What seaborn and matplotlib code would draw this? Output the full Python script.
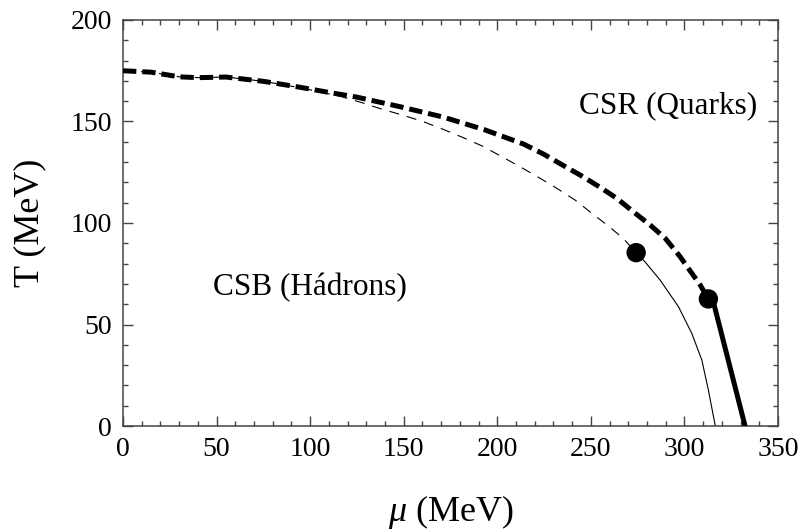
import matplotlib
matplotlib.use("Agg")
import matplotlib.pyplot as plt
import seaborn as sns
import pandas as pd
from matplotlib.ticker import MultipleLocator

# ---- data ----
mu_thick_dash = [0, 15, 30, 40, 55, 75, 95, 112, 125, 148, 171, 193, 214, 224.6, 234.4,
                 244.7, 254.4, 263.8, 272.6, 281.7, 289.7, 297.7, 304, 308.4, 312.8]
T_thick_dash = [175, 174.3, 172, 171.6, 171.9, 169.8, 166.8, 164, 162, 157.3, 152.2, 146,
                138.9, 134, 128.8, 123.4, 117.9, 112.2, 105.6, 99, 92.5, 83.4, 75.2, 69.5, 62.6]

mu_thin_dash = [0, 15, 30, 40, 55, 75, 95, 106, 117, 127.6, 138.6, 149.3, 160.5, 171.2,
                181.9, 192, 202.4, 212.2, 222, 231.8, 241.6, 250.5, 259.8, 267.2, 274.2]
T_thin_dash = [175, 174.3, 172, 171.6, 171.9, 169.8, 166.6, 164.4, 162.2, 159.3, 156, 153.2,
               149.9, 146.1, 142, 137.9, 132.7, 127.7, 122.5, 117.1, 111.3, 104.8, 98.2, 92.5, 85.4]

mu_thin_solid = [274.2, 278.9, 287, 296.8, 303.9, 309.3, 312.8, 316.5]
T_thin_solid = [85.4, 80.9, 71.9, 58.8, 45.7, 32.5, 17.7, 0]

mu_thick_solid = [315.5, 332.4]
T_thick_solid = [61, 0]

mu_points = [274.2, 312.8]
T_points = [85.4, 62.6]

x_ticks = [0, 50, 100, 150, 200, 250, 300, 350]
y_ticks = [0, 50, 100, 150, 200]

region_labels = ["CSR (Quarks)", "CSB (Hádrons)"]
region_x = [291.3, 100]
region_y = [158, 68]

# ---- style ----
sns.set_style("ticks")
plt.rcParams["font.family"] = ["Liberation Serif", "DejaVu Serif"]
plt.rcParams["mathtext.fontset"] = "custom"
plt.rcParams["mathtext.it"] = "Liberation Serif:italic"
plt.rcParams["mathtext.rm"] = "Liberation Serif"
plt.rcParams["lines.scale_dashes"] = False
plt.rcParams["text.color"] = "black"
plt.rcParams["axes.labelcolor"] = "black"
plt.rcParams["xtick.labelcolor"] = "black"
plt.rcParams["ytick.labelcolor"] = "black"

fig = plt.figure(figsize=(8.06, 5.32), dpi=100)
ax = fig.add_axes([123 / 806, 1 - 426 / 532, (778 - 123) / 806, (426 - 20) / 532])

df_td = pd.DataFrame({"mu": mu_thick_dash, "T": T_thick_dash})
df_nd = pd.DataFrame({"mu": mu_thin_dash, "T": T_thin_dash})
df_ns = pd.DataFrame({"mu": mu_thin_solid, "T": T_thin_solid})
df_ts = pd.DataFrame({"mu": mu_thick_solid, "T": T_thick_solid})
df_p = pd.DataFrame({"mu": mu_points, "T": T_points})

sns.lineplot(data=df_nd, x="mu", y="T", ax=ax, sort=False, estimator=None,
             color="black", lw=0.8, zorder=2)
ax.lines[-1].set_dashes((7.2, 5.8))
sns.lineplot(data=df_td, x="mu", y="T", ax=ax, sort=False, estimator=None,
             color="black", lw=3.6, zorder=3)
ax.lines[-1].set_dashes((9.6, 4.3))
sns.lineplot(data=df_ns, x="mu", y="T", ax=ax, sort=False, estimator=None,
             color="black", lw=0.8, zorder=2)
sns.lineplot(data=df_ts, x="mu", y="T", ax=ax, sort=False, estimator=None,
             color="black", lw=3.6, zorder=3)
sns.scatterplot(data=df_p, x="mu", y="T", ax=ax, color="black", s=195,
                edgecolor="none", zorder=5)

for lab, xx, yy in zip(region_labels, region_x, region_y):
    ax.text(xx, yy, lab, ha="center", va="center", fontsize=22.5, color="black")

ax.set_xlim(0, 350)
ax.set_ylim(0, 200)
ax.set_xticks(x_ticks)
ax.set_yticks(y_ticks)
ax.set_xticklabels([str(v) for v in x_ticks])
ax.set_yticklabels([str(v) for v in y_ticks])
ax.xaxis.set_minor_locator(MultipleLocator(10))
ax.yaxis.set_minor_locator(MultipleLocator(10))
ax.tick_params(which="both", direction="in", top=True, right=True,
               color="#444444", width=1.0, labelcolor="black")
ax.tick_params(which="major", length=7, labelsize=20, pad=8)
ax.tick_params(which="minor", length=3.6)
for sp in ax.spines.values():
    sp.set_color("#444444")
    sp.set_linewidth(1.1)

ax.set_xlabel(r"$\mu$ (MeV)", fontsize=26, labelpad=22, color="black")
ax.set_ylabel("T (MeV)", fontsize=26, labelpad=17, color="black")

fig.savefig("out.png", dpi=100)
